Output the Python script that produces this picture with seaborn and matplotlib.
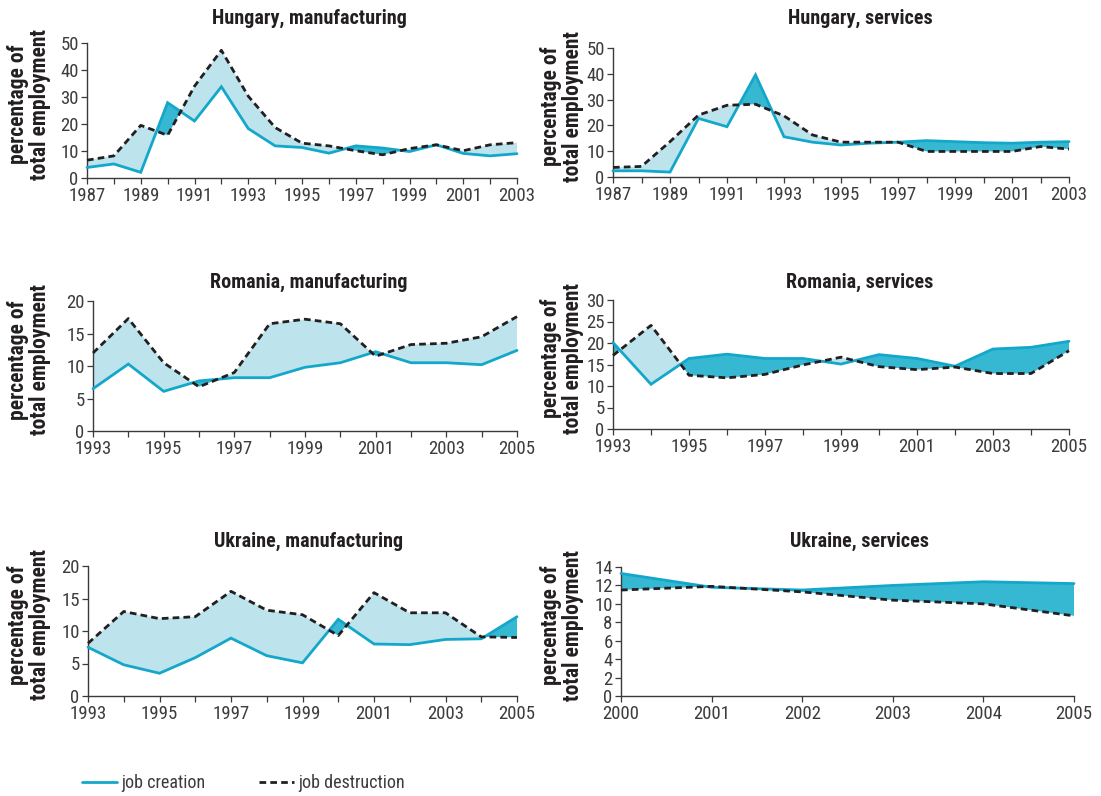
import matplotlib
matplotlib.use("Agg")
import numpy as np
import pandas as pd
import matplotlib.pyplot as plt
import seaborn as sns
from matplotlib import font_manager
from matplotlib.lines import Line2D

# ---- data: job creation / job destruction, % of total employment ----
years_hu = [1987, 1988, 1989, 1990, 1991, 1992, 1993, 1994, 1995,
            1996, 1997, 1998, 1999, 2000, 2001, 2002, 2003]
hu_mfg_creation = [3.9, 5.2, 2.1, 27.9, 21.1, 33.8, 18.3, 11.9, 11.3,
                   9.2, 11.9, 11.1, 9.8, 12.3, 9.1, 8.2, 9.0]
hu_mfg_destruction = [6.6, 8.2, 19.5, 15.8, 34.0, 47.3, 30.3, 18.7, 12.9,
                      11.9, 10.1, 8.6, 10.9, 12.3, 10.1, 12.3, 13.1]
hu_srv_creation = [2.4, 2.4, 1.9, 22.7, 19.5, 39.6, 15.6, 13.5, 12.4,
                   13.1, 13.5, 14.1, 13.7, 13.3, 13.1, 13.5, 13.7]
hu_srv_destruction = [3.7, 4.1, 13.7, 24.0, 27.8, 28.2, 23.7, 16.3, 13.5,
                      13.5, 13.5, 9.9, 9.9, 9.9, 9.9, 11.8, 10.8]

years_ro = [1993, 1994, 1995, 1996, 1997, 1998, 1999, 2000, 2001,
            2002, 2003, 2004, 2005]
ro_mfg_creation = [6.5, 10.3, 6.1, 7.7, 8.2, 8.2, 9.8, 10.5, 12.2,
                   10.5, 10.5, 10.2, 12.4]
ro_mfg_destruction = [12.0, 17.3, 10.5, 6.8, 9.0, 16.5, 17.2, 16.5, 11.5,
                      13.3, 13.5, 14.5, 17.6]
ro_srv_creation = [20.1, 10.4, 16.4, 17.4, 16.4, 16.4, 15.1, 17.3, 16.4,
                   14.6, 18.6, 19.0, 20.4]
ro_srv_destruction = [17.1, 24.1, 12.5, 11.9, 12.7, 14.9, 16.7, 14.5, 13.8,
                      14.4, 12.9, 12.9, 18.2]

years_ua_mfg = [1993, 1994, 1995, 1996, 1997, 1998, 1999, 2000, 2001,
                2002, 2003, 2004, 2005]
ua_mfg_creation = [7.5, 4.8, 3.5, 5.9, 8.9, 6.2, 5.1, 11.8, 8.0,
                   7.9, 8.7, 8.8, 12.2]
ua_mfg_destruction = [8.1, 13.0, 11.9, 12.2, 16.1, 13.2, 12.5, 9.3, 15.9,
                      12.8, 12.8, 9.1, 9.0]

years_ua_srv = [2000, 2001, 2002, 2003, 2004, 2005]
ua_srv_creation = [13.3, 11.8, 11.5, 12.0, 12.4, 12.2]
ua_srv_destruction = [11.5, 11.9, 11.3, 10.4, 10.0, 8.7]

titles = ["Hungary, manufacturing", "Hungary, services",
          "Romania, manufacturing", "Romania, services",
          "Ukraine, manufacturing", "Ukraine, services"]
ylabel_text = "percentage of\ntotal employment"
legend_labels = ["job creation", "job destruction"]

# ---- style ----
CREATION = "#13a7ca"
DESTRUCTION = "#231f20"
FILL_LIGHT = "#bde3ed"
FILL_DARK = "#36b8d3"
AXIS = "#3a3a3a"
TEXT = "#231f20"

sns.set_style("ticks")
installed = {f.name for f in font_manager.fontManager.ttflist}
narrow = next((n for n in ["Liberation Sans Narrow", "DejaVu Sans Condensed",
                           "Roboto Condensed", "Roboto"] if n in installed),
              "DejaVu Sans")
plt.rcParams["font.family"] = [narrow, "DejaVu Sans"]

W, H = 1101, 796
fig = plt.figure(figsize=(W / 100, H / 100), dpi=100)


def add_axes_px(x0, y0, x1, y1):
    return fig.add_axes([x0 / W, 1 - y1 / H, (x1 - x0) / W, (y1 - y0) / H])


panels = [
    dict(years=years_hu, c=hu_mfg_creation, d=hu_mfg_destruction, top=50, step=10,
         every=2, rect=(87, 43, 517, 178), tx=309, ty=18, lx=29),
    dict(years=years_hu, c=hu_srv_creation, d=hu_srv_destruction, top=50, step=10,
         every=2, rect=(613, 48, 1069, 177), tx=860, ty=18, lx=562),
    dict(years=years_ro, c=ro_mfg_creation, d=ro_mfg_destruction, top=20, step=5,
         every=2, rect=(93, 301, 517, 431), tx=309, ty=282, lx=29),
    dict(years=years_ro, c=ro_srv_creation, d=ro_srv_destruction, top=30, step=5,
         every=2, rect=(613, 300, 1069, 429), tx=860, ty=282, lx=562),
    dict(years=years_ua_mfg, c=ua_mfg_creation, d=ua_mfg_destruction, top=20, step=5,
         every=2, rect=(88, 566, 517, 696), tx=309, ty=541, lx=29),
    dict(years=years_ua_srv, c=ua_srv_creation, d=ua_srv_destruction, top=14, step=2,
         every=1, rect=(621, 567, 1074, 696), tx=860, ty=541, lx=562),
]

for title, p in zip(titles, panels):
    ax = add_axes_px(*p["rect"])
    yrs = np.array(p["years"])
    c = np.array(p["c"])
    d = np.array(p["d"])
    df = pd.DataFrame({"year": yrs, "creation": c, "destruction": d})

    # gap between the two series: light where destruction leads, dark where creation leads
    ax.fill_between(yrs, c, d, where=d >= c, interpolate=True,
                    color=FILL_LIGHT, lw=0, zorder=1)
    ax.fill_between(yrs, c, d, where=c >= d, interpolate=True,
                    color=FILL_DARK, lw=0, zorder=1)

    sns.lineplot(data=df, x="year", y="creation", ax=ax, color=CREATION,
                 lw=2.0, zorder=3)
    sns.lineplot(data=df, x="year", y="destruction", ax=ax, color=DESTRUCTION,
                 lw=2.0, zorder=4)
    ax.lines[-1].set_dashes((2.4, 1.5))
    for ln in ax.lines:
        ln.set_clip_on(False)
        ln.set_solid_joinstyle("miter")

    ax.set_xlim(yrs[0], yrs[-1])
    ax.set_ylim(0, p["top"])
    ax.set_yticks(np.arange(0, p["top"] + 0.01, p["step"]))
    ax.set_xticks(yrs)
    ax.set_xticklabels([str(y) if (y - yrs[0]) % p["every"] == 0 else "" for y in yrs])
    ax.set_xlabel("")
    ax.set_ylabel("")
    ax.tick_params(axis="both", direction="out", length=4, width=0.9,
                   color=AXIS, labelcolor="#3c3c3c")
    ax.tick_params(axis="x", labelsize=13.5, pad=2.5)
    ax.tick_params(axis="y", labelsize=13.5, pad=2.0)
    sns.despine(ax=ax)
    for s in ("left", "bottom"):
        ax.spines[s].set_color(AXIS)
        ax.spines[s].set_linewidth(1.0)
    ax.set_facecolor("none")

    fig.text(p["tx"] / W, 1 - p["ty"] / H, title, ha="center", va="center",
             fontsize=14.5, fontweight="bold", color=TEXT)
    y_mid = (p["rect"][1] + p["rect"][3]) / 2 - 6
    fig.text(p["lx"] / W, 1 - y_mid / H, ylabel_text, rotation=90,
             ha="center", va="center", fontsize=15.5, fontweight="bold",
             color=TEXT, linespacing=1.0, multialignment="center")

handles = [Line2D([], [], color=CREATION, lw=2.0),
           Line2D([], [], color=DESTRUCTION, lw=2.0, dashes=(2.4, 1.5))]
fig.legend(handles, legend_labels, loc="center left",
           bbox_to_anchor=(66 / W, 1 - 783 / H), ncol=2, frameon=False,
           fontsize=13, handlelength=1.9, handletextpad=0.25,
           columnspacing=3.0, labelcolor="#3c3c3c")

fig.savefig("out.png", dpi=100)
